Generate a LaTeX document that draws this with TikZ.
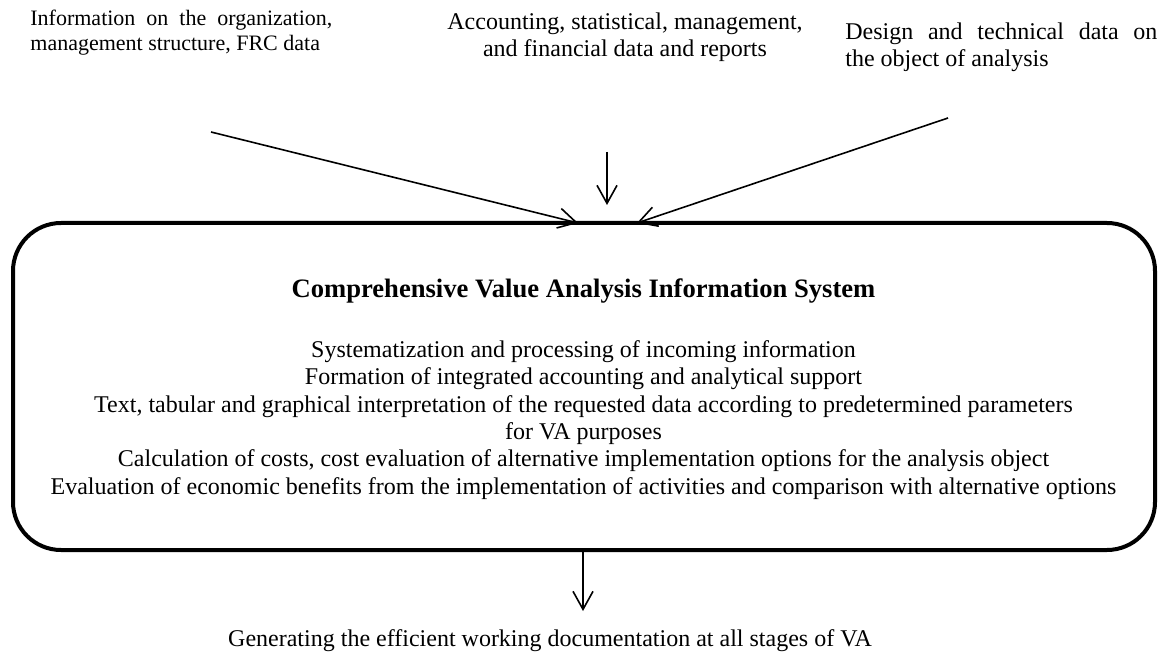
\documentclass[tikz,border=0pt]{standalone}
\usepackage{fontspec}
\setmainfont{Liberation Serif}
\usetikzlibrary{arrows.meta}
\begin{document}
\begin{tikzpicture}[x=0.5pt,y=-0.5pt,
  txt/.style={inner sep=0pt, font=\fontsize{12pt}{13.8pt}\selectfont},
  conn/.style={line width=0.8pt, -{Straight Barb[length=9pt,width=10pt,line width=0.8pt]}},
  sysbox/.style={draw, line width=2pt, rounded corners=24pt, minimum width=571pt, minimum height=163.5pt, inner sep=0pt}]
\useasboundingbox (0,0) rectangle (1162,652);
% top sources
\node[txt, anchor=north west, align=left, font=\fontsize{11pt}{12.2pt}\selectfont] (src1) at (30,10)
  {\makebox[151pt][s]{Information on the organization,}\\management structure, FRC data};
\node[txt, anchor=north, align=center] (src2) at (625,12)
  {Accounting, statistical, management,\\and financial data and reports};
\node[txt, anchor=north west, align=left] (src3) at (845,22)
  {\makebox[156pt][s]{Design and technical data on}\\the object of analysis};
% system box
\node[sysbox] (sys) at (584,386.5) {};
\node[txt, anchor=base, font=\fontsize{13.3pt}{15pt}\selectfont\bfseries] (title) at (583.5,298)
  {Comprehensive Value Analysis Information System};
\node[txt, anchor=center, align=center, font=\fontsize{12pt}{13.65pt}\selectfont] (body) at (583.5,420)
  {Systematization and processing of incoming information\\
   Formation of integrated accounting and analytical support\\
   Text, tabular and graphical interpretation of the requested data according to predetermined parameters\\
   for VA purposes\\
   Calculation of costs, cost evaluation of alternative implementation options for the analysis object\\
   Evaluation of economic benefits from the implementation of activities and comparison with alternative options};
% output
\node[txt, anchor=base] (doc) at (550,646)
  {Generating the efficient working documentation at all stages of VA};
% connector ends
\coordinate (s1) at (211,132);
\coordinate (e1) at (578,223);
\coordinate (s2) at (607,152);
\coordinate (e2) at (607,205);
\coordinate (s3) at (948,118);
\coordinate (e3) at (637,223);
\coordinate (e4) at (583,611);
\draw[conn] (s1) -- (e1);
\draw[conn] (s2) -- (e2);
\draw[conn] (s3) -- (e3);
\draw[conn] (sys.south -| e4) -- (e4);
\end{tikzpicture}
\end{document}
